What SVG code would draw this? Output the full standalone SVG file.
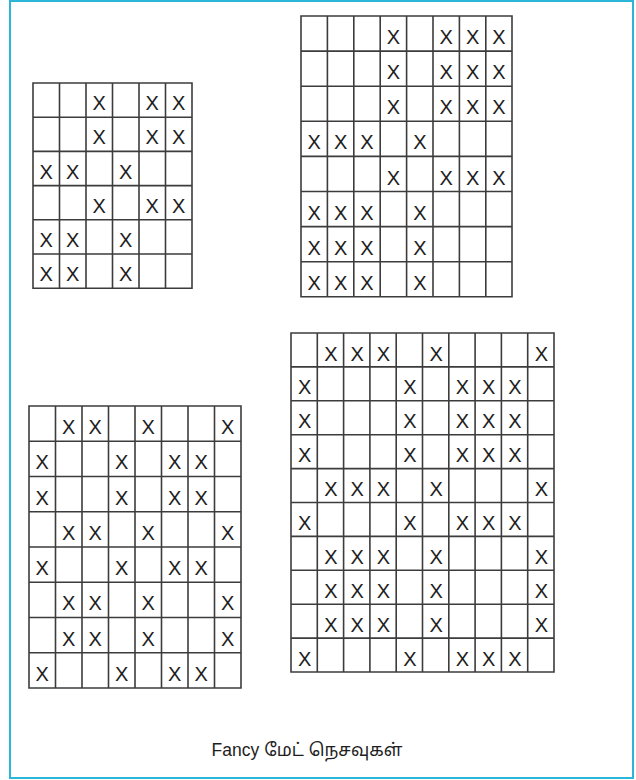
<svg xmlns="http://www.w3.org/2000/svg" width="636" height="780" viewBox="0 0 636 780">
<style>
.g{fill:none;stroke:#3c3c3c;stroke-width:1.6}
.x{font-family:"Liberation Sans",Arial,sans-serif;font-size:20px;fill:#1e1e1e;text-anchor:middle}
.cap{font-family:"Liberation Sans","Noto Sans Tamil","Lohit Tamil","Noto Sans",sans-serif;font-size:17.5px;fill:#1e1e1e;text-anchor:middle}
</style>
<rect x="0" y="0" width="636" height="780" fill="#ffffff"/>
<rect x="10" y="1" width="623" height="777" fill="none" stroke="#2bb5d8" stroke-width="2"/>

<g id="grid1">
<path class="g" d="M33 83H192V288.2H33Z M59.5 83V288.2 M86 83V288.2 M112.5 83V288.2 M139 83V288.2 M165.5 83V288.2 M33 117.2H192 M33 151.4H192 M33 185.6H192 M33 219.8H192 M33 254H192"/>
<text class="x" x="99.25" y="110.1">X</text><text class="x" x="152.25" y="110.1">X</text><text class="x" x="178.75" y="110.1">X</text>
<text class="x" x="99.25" y="144.3">X</text><text class="x" x="152.25" y="144.3">X</text><text class="x" x="178.75" y="144.3">X</text>
<text class="x" x="46.25" y="178.5">X</text><text class="x" x="72.75" y="178.5">X</text><text class="x" x="125.75" y="178.5">X</text>
<text class="x" x="99.25" y="212.7">X</text><text class="x" x="152.25" y="212.7">X</text><text class="x" x="178.75" y="212.7">X</text>
<text class="x" x="46.25" y="246.9">X</text><text class="x" x="72.75" y="246.9">X</text><text class="x" x="125.75" y="246.9">X</text>
<text class="x" x="46.25" y="281.1">X</text><text class="x" x="72.75" y="281.1">X</text><text class="x" x="125.75" y="281.1">X</text>
</g>

<g id="grid2">
<path class="g" d="M301 16H512V296.8H301Z M327.4 16V296.8 M353.8 16V296.8 M380.2 16V296.8 M406.6 16V296.8 M433 16V296.8 M459.4 16V296.8 M485.8 16V296.8 M301 51.1H512 M301 86.2H512 M301 121.3H512 M301 156.4H512 M301 191.5H512 M301 226.6H512 M301 261.7H512"/>
<text class="x" x="393.4" y="44">X</text><text class="x" x="446.2" y="44">X</text><text class="x" x="472.6" y="44">X</text><text class="x" x="499" y="44">X</text>
<text class="x" x="393.4" y="79.2">X</text><text class="x" x="446.2" y="79.2">X</text><text class="x" x="472.6" y="79.2">X</text><text class="x" x="499" y="79.2">X</text>
<text class="x" x="393.4" y="114.3">X</text><text class="x" x="446.2" y="114.3">X</text><text class="x" x="472.6" y="114.3">X</text><text class="x" x="499" y="114.3">X</text>
<text class="x" x="314.2" y="149.4">X</text><text class="x" x="340.6" y="149.4">X</text><text class="x" x="367" y="149.4">X</text><text class="x" x="419.8" y="149.4">X</text>
<text class="x" x="393.4" y="184.5">X</text><text class="x" x="446.2" y="184.5">X</text><text class="x" x="472.6" y="184.5">X</text><text class="x" x="499" y="184.5">X</text>
<text class="x" x="314.2" y="219.6">X</text><text class="x" x="340.6" y="219.6">X</text><text class="x" x="367" y="219.6">X</text><text class="x" x="419.8" y="219.6">X</text>
<text class="x" x="314.2" y="254.7">X</text><text class="x" x="340.6" y="254.7">X</text><text class="x" x="367" y="254.7">X</text><text class="x" x="419.8" y="254.7">X</text>
<text class="x" x="314.2" y="289.8">X</text><text class="x" x="340.6" y="289.8">X</text><text class="x" x="367" y="289.8">X</text><text class="x" x="419.8" y="289.8">X</text>
</g>

<g id="grid3">
<path class="g" d="M29 406H241V688H29Z M55.5 406V688 M82 406V688 M108.5 406V688 M135 406V688 M161.5 406V688 M188 406V688 M214.5 406V688 M29 441.25H241 M29 476.5H241 M29 511.75H241 M29 547H241 M29 582.25H241 M29 617.5H241 M29 652.75H241"/>
<text class="x" x="68.75" y="434.1">X</text><text class="x" x="95.25" y="434.1">X</text><text class="x" x="148.25" y="434.1">X</text><text class="x" x="227.75" y="434.1">X</text>
<text class="x" x="42.25" y="469.4">X</text><text class="x" x="121.75" y="469.4">X</text><text class="x" x="174.75" y="469.4">X</text><text class="x" x="201.25" y="469.4">X</text>
<text class="x" x="42.25" y="504.6">X</text><text class="x" x="121.75" y="504.6">X</text><text class="x" x="174.75" y="504.6">X</text><text class="x" x="201.25" y="504.6">X</text>
<text class="x" x="68.75" y="539.9">X</text><text class="x" x="95.25" y="539.9">X</text><text class="x" x="148.25" y="539.9">X</text><text class="x" x="227.75" y="539.9">X</text>
<text class="x" x="42.25" y="575.1">X</text><text class="x" x="121.75" y="575.1">X</text><text class="x" x="174.75" y="575.1">X</text><text class="x" x="201.25" y="575.1">X</text>
<text class="x" x="68.75" y="610.4">X</text><text class="x" x="95.25" y="610.4">X</text><text class="x" x="148.25" y="610.4">X</text><text class="x" x="227.75" y="610.4">X</text>
<text class="x" x="68.75" y="645.6">X</text><text class="x" x="95.25" y="645.6">X</text><text class="x" x="148.25" y="645.6">X</text><text class="x" x="227.75" y="645.6">X</text>
<text class="x" x="42.25" y="680.9">X</text><text class="x" x="121.75" y="680.9">X</text><text class="x" x="174.75" y="680.9">X</text><text class="x" x="201.25" y="680.9">X</text>
</g>

<g id="grid4">
<path class="g" d="M291 333H554V672H291Z M317.3 333V672 M343.6 333V672 M369.9 333V672 M396.2 333V672 M422.5 333V672 M448.8 333V672 M475.1 333V672 M501.4 333V672 M527.7 333V672 M291 366.9H554 M291 400.8H554 M291 434.7H554 M291 468.6H554 M291 502.5H554 M291 536.4H554 M291 570.3H554 M291 604.2H554 M291 638.1H554"/>
<text class="x" x="330.9" y="360.5">X</text><text class="x" x="357.2" y="360.5">X</text><text class="x" x="383.5" y="360.5">X</text><text class="x" x="436.1" y="360.5">X</text><text class="x" x="541.3" y="360.5">X</text>
<text class="x" x="304.6" y="394.4">X</text><text class="x" x="409.8" y="394.4">X</text><text class="x" x="462.4" y="394.4">X</text><text class="x" x="488.7" y="394.4">X</text><text class="x" x="515" y="394.4">X</text>
<text class="x" x="304.6" y="428.3">X</text><text class="x" x="409.8" y="428.3">X</text><text class="x" x="462.4" y="428.3">X</text><text class="x" x="488.7" y="428.3">X</text><text class="x" x="515" y="428.3">X</text>
<text class="x" x="304.6" y="462.2">X</text><text class="x" x="409.8" y="462.2">X</text><text class="x" x="462.4" y="462.2">X</text><text class="x" x="488.7" y="462.2">X</text><text class="x" x="515" y="462.2">X</text>
<text class="x" x="330.9" y="496.1">X</text><text class="x" x="357.2" y="496.1">X</text><text class="x" x="383.5" y="496.1">X</text><text class="x" x="436.1" y="496.1">X</text><text class="x" x="541.3" y="496.1">X</text>
<text class="x" x="304.6" y="530">X</text><text class="x" x="409.8" y="530">X</text><text class="x" x="462.4" y="530">X</text><text class="x" x="488.7" y="530">X</text><text class="x" x="515" y="530">X</text>
<text class="x" x="330.9" y="563.9">X</text><text class="x" x="357.2" y="563.9">X</text><text class="x" x="383.5" y="563.9">X</text><text class="x" x="436.1" y="563.9">X</text><text class="x" x="541.3" y="563.9">X</text>
<text class="x" x="330.9" y="597.8">X</text><text class="x" x="357.2" y="597.8">X</text><text class="x" x="383.5" y="597.8">X</text><text class="x" x="436.1" y="597.8">X</text><text class="x" x="541.3" y="597.8">X</text>
<text class="x" x="330.9" y="631.7">X</text><text class="x" x="357.2" y="631.7">X</text><text class="x" x="383.5" y="631.7">X</text><text class="x" x="436.1" y="631.7">X</text><text class="x" x="541.3" y="631.7">X</text>
<text class="x" x="304.6" y="665.6">X</text><text class="x" x="409.8" y="665.6">X</text><text class="x" x="462.4" y="665.6">X</text><text class="x" x="488.7" y="665.6">X</text><text class="x" x="515" y="665.6">X</text>
</g>

<g id="caption">
<text class="cap" x="307" y="756">Fancy மேட் நெசவுகள்</text>
</g>
</svg>
